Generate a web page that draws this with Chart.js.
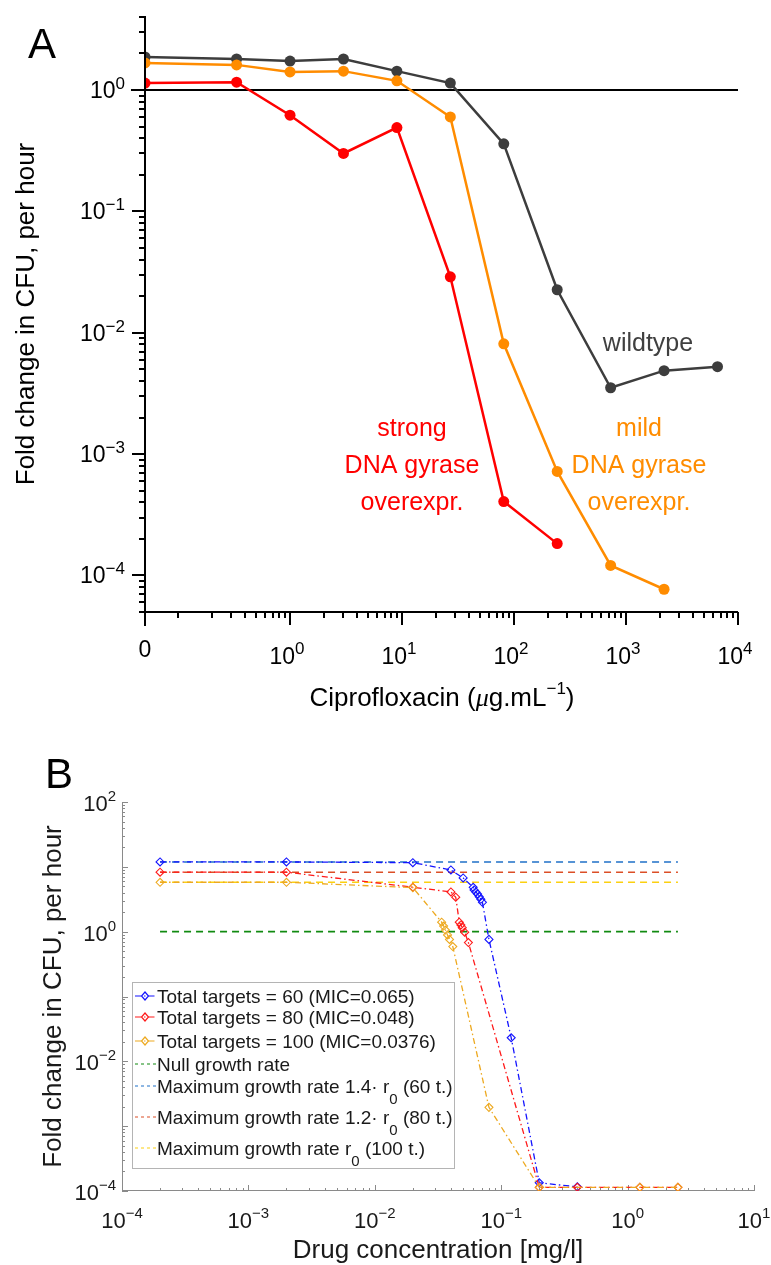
<!DOCTYPE html>
<html>
<head>
<meta charset="utf-8">
<script src="https://cdn.jsdelivr.net/npm/chart.js@4.4.0/dist/chart.umd.min.js"></script>
<style>
  html, body { margin: 0; padding: 0; background: #fff; }
  #wrap { position: relative; width: 771px; height: 1265px; }
  canvas { position: absolute; left: 0; }
  #chartA { top: 0; }
  #chartB { top: 720px; }
</style>
</head>
<body>
<div id="wrap">
  <canvas id="chartA" width="771" height="720"></canvas>
  <canvas id="chartB" width="771" height="545"></canvas>
</div>
<script>
// ---------- Panel A data ----------
// ciprofloxacin (ug/mL); the 0 dose is drawn at the left edge of the log axis
const cipro = [0, 1/3, 1, 3, 9, 27, 81, 243, 729, 2187, 6561];
const wildtype = [1.87, 1.80, 1.73, 1.80, 1.43, 1.14, 0.36, 0.0226, 0.00352, 0.00487, 0.00525];
const mildGyrase = [1.67, 1.61, 1.41, 1.43, 1.19, 0.60, 0.0081, 0.00072, 0.000121, 0.000077];
const strongGyrase = [1.14, 1.16, 0.62, 0.30, 0.49, 0.0289, 0.000406, 0.000183];
const xTicksA = [1, 10, 100, 1000, 10000];
const yTicksA = [1, 0.1, 0.01, 0.001, 0.0001];

// ---------- Panel B data ----------
const conc60 = [2e-4, 2e-3, 0.02, 0.04, 0.05, 0.06, 0.061, 0.063, 0.065, 0.067, 0.069, 0.071, 0.08, 0.12, 0.2, 0.4];
const fold60 = [11.9, 11.9, 11.6, 8.95, 6.74, 4.84, 4.40, 4.10, 3.82, 3.47, 3.16, 2.84, 0.76, 0.0231, 1.34e-4, 1.16e-4];
const conc80 = [2e-4, 2e-3, 0.02, 0.04, 0.0437, 0.0466, 0.048, 0.0492, 0.0514, 0.055, 0.2, 0.4, 1.25, 2.5];
const fold80 = [8.26, 8.26, 4.85, 4.10, 3.40, 1.40, 1.27, 1.15, 0.98, 0.68, 1.14e-4, 1.14e-4, 1.14e-4, 1.14e-4];
const conc100 = [2e-4, 2e-3, 0.02, 0.0338, 0.035, 0.0362, 0.0376, 0.039, 0.0414, 0.08, 0.2, 1.25, 2.5];
const fold100 = [5.78, 5.78, 4.78, 1.40, 1.22, 1.06, 0.89, 0.76, 0.59, 1.95e-3, 1.14e-4, 1.14e-4, 1.14e-4];
const refRange = [2e-4, 2.5];
const nullRate = 1;
const maxRates = [11.9, 8.26, 5.78]; // 60, 80, 100 targets
const xTicksB = [1e-4, 1e-3, 1e-2, 1e-1, 1, 10];
const yTicksB = [100, 1, 0.01, 0.0001];
const legendB = [
  'Total targets = 60 (MIC=0.065)',
  'Total targets = 80 (MIC=0.048)',
  'Total targets = 100 (MIC=0.0376)',
  'Null growth rate',
  'Maximum growth rate 1.4\u00b7 r_0 (60 t.)',
  'Maximum growth rate 1.2\u00b7 r_0 (80 t.)',
  'Maximum growth rate r_0 (100 t.)'
];

const FONT = '"Liberation Sans", Arial, Helvetica, sans-serif';
const xMinA = 0.0507;

function pairs(xs, ys) {
  return ys.map((y, i) => ({ x: xs[i] === 0 ? xMinA : xs[i], y: y }));
}

function expLabel(e) {
  return e < 0 ? '\u2212' + Math.abs(e) : String(e);
}

// draws "10" with a raised exponent; align: 'right' or 'center'
function drawPow(ctx, e, x, y, size, supSize, rise, align, color) {
  const base = '10', sup = expLabel(e);
  ctx.font = size + 'px ' + FONT;
  const w1 = ctx.measureText(base).width;
  ctx.font = supSize + 'px ' + FONT;
  const w2 = ctx.measureText(sup).width;
  let x0 = align === 'right' ? x - w1 - w2 : x - (w1 + w2) / 2;
  ctx.fillStyle = color;
  ctx.textAlign = 'left';
  ctx.textBaseline = 'alphabetic';
  ctx.font = size + 'px ' + FONT;
  ctx.fillText(base, x0, y);
  ctx.font = supSize + 'px ' + FONT;
  ctx.fillText(sup, x0 + w1, y - rise);
}

function minorValues(min, max) {
  const out = [];
  for (let p = -6; p <= 5; p++) {
    for (let k = 1; k <= 9; k++) {
      const v = k * Math.pow(10, p);
      if (v >= min * 0.999 && v <= max * 1.001) out.push({ v: v, major: k === 1 });
    }
  }
  return out;
}

// ---------- Panel A ----------
const axesA = {
  id: 'axesA',
  afterDraw(chart) {
    const ctx = chart.ctx, xs = chart.scales.x, ys = chart.scales.y;
    const a = chart.chartArea;
    ctx.save();
    ctx.strokeStyle = '#000';
    ctx.lineWidth = 2;
    ctx.beginPath();
    ctx.moveTo(a.left, a.top); ctx.lineTo(a.left, a.bottom + 14);
    ctx.moveTo(a.left, a.bottom); ctx.lineTo(a.right, a.bottom);
    // y ticks (outward)
    minorValues(5e-5, 4.1).forEach(t => {
      const py = Math.round(ys.getPixelForValue(t.v));
      const len = t.major ? 13 : 6;
      ctx.moveTo(a.left, py); ctx.lineTo(a.left - len, py);
    });
    // x ticks (outward)
    minorValues(0.1, 10000).forEach(t => {
      const px = Math.round(xs.getPixelForValue(t.v));
      const len = (t.major && t.v >= 1) ? 13 : 6;
      ctx.moveTo(px, a.bottom); ctx.lineTo(px, a.bottom + len);
    });
    ctx.stroke();

    // tick labels
    yTicksA.forEach(v => {
      drawPow(ctx, Math.round(Math.log10(v)), a.left - 20, ys.getPixelForValue(v) + 8, 23, 17, 9, 'right', '#000');
    });
    xTicksA.forEach(v => {
      drawPow(ctx, Math.round(Math.log10(v)), xs.getPixelForValue(v) - 3, 664, 23, 17, 10, 'center', '#000');
    });
    ctx.font = '23px ' + FONT;
    ctx.textAlign = 'center';
    ctx.fillStyle = '#000';
    ctx.fillText('0', a.left, 657);

    // axis titles
    ctx.save();
    ctx.translate(27, (a.top + a.bottom) / 2);
    ctx.rotate(-Math.PI / 2);
    ctx.textAlign = 'center';
    ctx.textBaseline = 'middle';
    ctx.font = '26px ' + FONT;
    ctx.fillText('Fold change in CFU, per hour', 0, 0);
    ctx.restore();

    // "Ciprofloxacin (μg.mL−1)"
    const parts = [
      ['Ciprofloxacin (', '26px ' + FONT, 0],
      ['\u03bc', 'italic 26px "Liberation Serif", serif', 0],
      ['g.mL', '26px ' + FONT, 0],
      ['\u22121', '17px ' + FONT, 12],
      [')', '26px ' + FONT, 0]
    ];
    let total = 0;
    parts.forEach(p => { ctx.font = p[1]; total += ctx.measureText(p[0]).width; });
    let cx = 442 - total / 2;
    ctx.textAlign = 'left';
    ctx.textBaseline = 'alphabetic';
    parts.forEach(p => {
      ctx.font = p[1];
      ctx.fillText(p[0], cx, 706 - p[2]);
      cx += ctx.measureText(p[0]).width;
    });

    // panel letter
    ctx.font = '42px ' + FONT;
    ctx.fillText('A', 28, 58);

    // curve annotations
    ctx.textAlign = 'center';
    ctx.font = '25px ' + FONT;
    ctx.fillStyle = '#404040';
    ctx.fillText('wildtype', 648, 351);
    ctx.fillStyle = '#ff0000';
    ['strong', 'DNA gyrase', 'overexpr.'].forEach((s, i) => ctx.fillText(s, 412, 436 + 37 * i));
    ctx.fillStyle = '#ff8c00';
    ['mild', 'DNA gyrase', 'overexpr.'].forEach((s, i) => ctx.fillText(s, 639, 436 + 37 * i));
    ctx.restore();
  }
};

function seriesA(label, xs, ys, color) {
  return {
    label: label,
    data: pairs(xs, ys),
    borderColor: color,
    backgroundColor: color,
    borderWidth: 2.5,
    pointRadius: 5.5,
    pointHoverRadius: 5.5,
    pointBorderWidth: 0,
    tension: 0
  };
}

new Chart(document.getElementById('chartA'), {
  type: 'line',
  data: {
    datasets: [
      seriesA('strong DNA gyrase overexpr.', cipro, strongGyrase, '#ff0000'),
      seriesA('mild DNA gyrase overexpr.', cipro, mildGyrase, '#ff8c00'),
      seriesA('wildtype', cipro, wildtype, '#3d3d3d'),
      {
        label: 'no growth',
        data: [{ x: 0.038, y: 1 }, { x: 10000, y: 1 }],
        borderColor: '#000',
        borderWidth: 2,
        pointRadius: 0,
        clip: false
      }
    ]
  },
  options: {
    responsive: false,
    animation: false,
    devicePixelRatio: 1,
    layout: { padding: { left: 145, right: 33, top: 16, bottom: 108 } },
    plugins: { legend: { display: false }, tooltip: { enabled: false } },
    scales: {
      x: { type: 'logarithmic', min: xMinA, max: 10000, display: false },
      y: { type: 'logarithmic', min: 5e-5, max: 4.07, display: false }
    }
  },
  plugins: [axesA]
});

// ---------- Panel B ----------
const seriesColorsB = ['#1414ff', '#ff1a1a', '#eda920'];
const refColorsB = ['#108a10', '#1f70c8', '#dc4e26', '#fbd010'];
const dashDot = [6, 3, 1.5, 3];
const dashed = [7, 5];

const axesB = {
  id: 'axesB',
  beforeDatasetsDraw(chart) {
    const ctx = chart.ctx, xs = chart.scales.x, ys = chart.scales.y;
    const a = chart.chartArea;
    ctx.save();
    ctx.strokeStyle = '#8a8a8a';
    ctx.lineWidth = 1;
    ctx.beginPath();
    ctx.moveTo(a.left + 0.5, a.top); ctx.lineTo(a.left + 0.5, a.bottom);
    ctx.moveTo(a.left, a.bottom - 0.5); ctx.lineTo(a.right, a.bottom - 0.5);
    minorValues(1e-4, 100).forEach(t => {
      const py = Math.round(ys.getPixelForValue(t.v)) + 0.5;
      const len = t.major ? 6 : 3;
      ctx.moveTo(a.left, py); ctx.lineTo(a.left + len, py);
    });
    minorValues(1e-4, 10).forEach(t => {
      const px = Math.round(xs.getPixelForValue(t.v)) + 0.5;
      const len = t.major ? 6 : 3;
      ctx.moveTo(px, a.bottom); ctx.lineTo(px, a.bottom - len);
    });
    ctx.stroke();
    ctx.restore();
  },
  afterDraw(chart) {
    const ctx = chart.ctx, xs = chart.scales.x, ys = chart.scales.y;
    const a = chart.chartArea;
    ctx.save();
    yTicksB.forEach(v => {
      drawPow(ctx, Math.round(Math.log10(v)), a.left - 6, ys.getPixelForValue(v) + 9, 22, 15, 10, 'right', '#1a1a1a');
    });
    xTicksB.forEach(v => {
      drawPow(ctx, Math.round(Math.log10(v)), xs.getPixelForValue(v), a.bottom + 37, 22, 15, 10, 'center', '#1a1a1a');
    });

    ctx.fillStyle = '#1a1a1a';
    ctx.save();
    ctx.translate(54, (a.top + a.bottom) / 2);
    ctx.rotate(-Math.PI / 2);
    ctx.textAlign = 'center';
    ctx.textBaseline = 'middle';
    ctx.font = '26px ' + FONT;
    ctx.fillText('Fold change in CFU, per hour', 0, 0);
    ctx.restore();

    ctx.textAlign = 'center';
    ctx.font = '26px ' + FONT;
    ctx.fillText('Drug concentration [mg/l]', 438, 538);

    ctx.fillStyle = '#000';
    ctx.textAlign = 'left';
    ctx.font = '42px ' + FONT;
    ctx.fillText('B', 45, 68);

    // legend box
    const bx = 132, by = 262, bw = 322, bh = 186;
    ctx.fillStyle = '#fff';
    ctx.fillRect(bx, by, bw, bh);
    ctx.strokeStyle = '#b4b4b4';
    ctx.lineWidth = 1;
    ctx.strokeRect(bx + 0.5, by + 0.5, bw, bh);
    const rowY = [276, 297, 321, 344, 366, 397, 428];
    const styles = [
      { c: seriesColorsB[0], d: dashDot, m: true },
      { c: seriesColorsB[1], d: dashDot, m: true },
      { c: seriesColorsB[2], d: dashDot, m: true },
      { c: refColorsB[0], d: [3, 3] },
      { c: refColorsB[1], d: [3, 3] },
      { c: refColorsB[2], d: [3, 3] },
      { c: refColorsB[3], d: [3, 3] }
    ];
    legendB.forEach((txt, i) => {
      const y = rowY[i], st = styles[i];
      ctx.strokeStyle = st.c;
      ctx.lineWidth = 1.2;
      ctx.setLineDash(st.d);
      ctx.beginPath();
      ctx.moveTo(135, y); ctx.lineTo(156, y);
      ctx.stroke();
      ctx.setLineDash([]);
      if (st.m) {
        ctx.beginPath();
        ctx.moveTo(145, y - 4); ctx.lineTo(148.5, y); ctx.lineTo(145, y + 4); ctx.lineTo(141.5, y);
        ctx.closePath();
        ctx.stroke();
      }
      ctx.fillStyle = '#1a1a1a';
      ctx.textAlign = 'left';
      ctx.textBaseline = 'alphabetic';
      const segs = txt.split('_');
      let x = 157;
      ctx.font = '19px ' + FONT;
      ctx.fillText(segs[0], x, y + 7);
      if (segs.length > 1) {
        x += ctx.measureText(segs[0]).width;
        ctx.font = '15px ' + FONT;
        ctx.fillText(segs[1].charAt(0), x, y + 18);
        x += ctx.measureText(segs[1].charAt(0)).width;
        ctx.font = '19px ' + FONT;
        ctx.fillText(segs[1].slice(1), x, y + 7);
      }
    });
    ctx.restore();
  }
};

function seriesB(label, xs, ys, color, ord) {
  return {
    label: label,
    data: ys.map((y, i) => ({ x: xs[i], y: y })),
    borderColor: color,
    borderWidth: 1.3,
    borderDash: dashDot,
    pointStyle: 'rectRot',
    pointRadius: 4,
    pointBorderWidth: 1.1,
    pointBorderColor: color,
    pointBackgroundColor: 'rgba(0,0,0,0)',
    order: ord
  };
}

function refLine(label, y, color) {
  return {
    label: label,
    data: refRange.map(x => ({ x: x, y: y })),
    borderColor: color,
    borderWidth: 1.6,
    borderDash: dashed,
    pointRadius: 0,
    order: 5
  };
}

new Chart(document.getElementById('chartB'), {
  type: 'line',
  data: {
    datasets: [
      seriesB(legendB[0], conc60, fold60, seriesColorsB[0], 2),
      seriesB(legendB[1], conc80, fold80, seriesColorsB[1], 1),
      seriesB(legendB[2], conc100, fold100, seriesColorsB[2], 0),
      refLine(legendB[3], nullRate, refColorsB[0]),
      refLine(legendB[4], maxRates[0], refColorsB[1]),
      refLine(legendB[5], maxRates[1], refColorsB[2]),
      refLine(legendB[6], maxRates[2], refColorsB[3])
    ]
  },
  options: {
    responsive: false,
    animation: false,
    devicePixelRatio: 1,
    layout: { padding: { left: 122, right: 17, top: 82, bottom: 74 } },
    plugins: { legend: { display: false }, tooltip: { enabled: false } },
    scales: {
      x: { type: 'logarithmic', min: 1e-4, max: 10, display: false },
      y: { type: 'logarithmic', min: 1e-4, max: 100, display: false }
    }
  },
  plugins: [axesB]
});
</script>
</body>
</html>
